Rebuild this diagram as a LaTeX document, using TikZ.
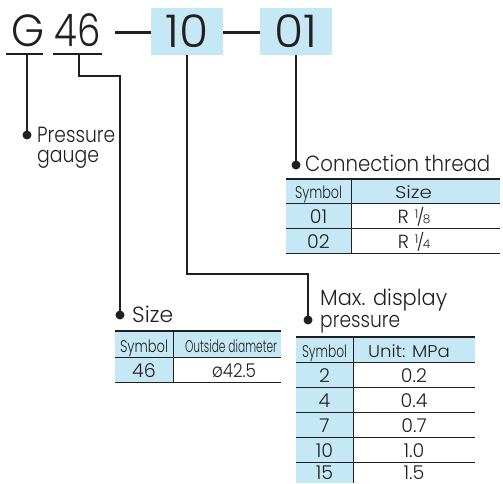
\documentclass[tikz,border=0pt]{standalone}
\usepackage{fontspec}
\setmainfont{Poppins}[UprightFont=* Light]
\usepackage{graphicx}
\definecolor{hdr}{RGB}{196,232,245}
\definecolor{ink}{RGB}{35,31,32}
\newcommand\fitw[2]{\resizebox{#1pt}{\height}{#2}}
\newcommand\frc[2]{\raisebox{5pt}{\fontsize{12}{12}\selectfont#1}\kern-1.5pt{\fontsize{17}{17}\selectfont/}\kern-1.5pt{\fontsize{12}{12}\selectfont#2}}
\tikzset{
  ln/.style={draw=ink, line width=1.6pt},
  rl/.style={draw=ink, line width=0.9pt},
  toprl/.style={draw=ink, line width=2pt},
  big/.style={font=\fontsize{45}{45}\selectfont, text=ink, inner sep=0pt},
  lbl/.style={anchor=base west, inner sep=0pt, text=ink, font=\fontsize{22}{22}\selectfont},
  tcell/.style={anchor=base, inner sep=0pt, text=ink, font=\fontsize{19}{19}\selectfont},
  thead/.style={anchor=base, inner sep=0pt, text=ink, font=\fontsize{17}{17}\selectfont},
  codebox/.style={fill=hdr, minimum width=72pt, minimum height=47pt, inner sep=0pt, big},
}
\begin{document}
\begin{tikzpicture}[x=1pt,y=-1pt]
\useasboundingbox (0,0) rectangle (503,483);
% ---- code line ----
\node[big, anchor=base] (cG) at (28.5,46) {\fitw{33}{G}};
\node[big, anchor=base] (c46) at (78,46) {\fitw{46}{46}};
\node[codebox] (b10) at (187,31.5) {\fitw{43}{10}};
\node[codebox] (b01) at (296,31.5) {\fitw{43}{01}};
\coordinate (d1) at (115,32);
\draw[draw=ink, line width=3pt] (d1) -- (d1 -| b10.west);
\draw[draw=ink, line width=3pt] (b10.east |- d1) -- (b01.west |- d1);
% underlines
\coordinate (uGl) at (6,54);  \coordinate (uGr) at (43,54);
\coordinate (u4l) at (53,54); \coordinate (u4r) at (102,54);
\draw[ln] (uGl) -- (uGr);
\draw[ln] (u4l) -- (u4r);
\coordinate (uGm) at (27,54);
\coordinate (u4m) at (79,54);
% dots
\coordinate (pgdot) at (27,135);
\coordinate (szdot) at (120,315);
\coordinate (mpdot) at (308,320);
\coordinate (ctdot) at (296,165);
% connectors
\draw[ln] (uGm) -- (pgdot);
\draw[ln] (u4m) -- ++(0,22) -| (szdot);
\draw[ln] (b10.south) -- ++(0,219) -| (mpdot);
\draw[ln] (b01.south) -- (ctdot);
\foreach \d in {pgdot,szdot,mpdot,ctdot} \fill[ink] (\d) circle[radius=4.5pt];
% labels
\node[lbl] (lpg1) at (37,142) {\fitw{78}{Pressure}};
\node[lbl] (lpg2) at (37,162) {\fitw{62}{gauge}};
\node[lbl] (lct) at (305,171) {\fitw{185}{Connection thread}};
\node[lbl] (lsz) at (132,322) {\fitw{41}{Size}};
\node[lbl] (lmp1) at (320,305) {\fitw{127}{Max. display}};
\node[lbl] (lmp2) at (320,327) {\fitw{80}{pressure}};
% ---- connection thread table ----
\fill[hdr] (286,179) rectangle (500,203);
\fill[hdr] (286,203) rectangle (351,253);
\draw[toprl] (286,179) -- (500,179);
\foreach \yy in {203,228,253} \draw[rl] (286,\yy) -- (500,\yy);
\draw[rl] (351,179) -- (351,253);
\node[thead] (cth1) at (318.5,198) {\fitw{47}{Symbol}};
\node[thead] (cth2) at (413.5,198) {\fitw{37}{Size}};
\node[tcell] (ctr1a) at (318.5,223) {01};
\node[tcell] (ctr1b) at (414,223) {R\hspace{6pt}\frc{1}{8}};
\node[tcell] (ctr2a) at (318.5,248) {02};
\node[tcell] (ctr2b) at (414,248) {R\hspace{6pt}\frc{1}{4}};
% ---- size table ----
\fill[hdr] (115,331) rectangle (281,357);
\fill[hdr] (115,357) rectangle (173,382);
\draw[toprl] (115,331) -- (281,331);
\foreach \yy in {357,382} \draw[rl] (115,\yy) -- (281,\yy);
\draw[rl] (173,331) -- (173,382);
\node[thead] (szh1) at (144,352) {\fitw{48}{Symbol}};
\node[thead] (szh2) at (231,352) {\fitw{92}{Outside diameter}};
\node[tcell] (szr1a) at (144,377) {46};
\node[tcell] (szr1b) at (234,377) {\fitw{44}{ø42.5}};
% ---- pressure table ----
\fill[hdr] (296,337) rectangle (475,362);
\fill[hdr] (296,362) rectangle (353,483);
\draw[toprl] (296,337) -- (475,337);
\foreach \yy in {362,387,412,437,462} \draw[rl] (296,\yy) -- (475,\yy);
\draw[rl] (353,337) -- (353,483);
\node[thead] (mph1) at (324.5,357) {\fitw{45}{Symbol}};
\node[thead] (mph2) at (409,357) {\fitw{82}{Unit: MPa}};
\node[tcell] (mr1a) at (324.5,382) {2};   \node[tcell] (mr1b) at (414,382) {0.2};
\node[tcell] (mr2a) at (324.5,407) {4};   \node[tcell] (mr2b) at (414,407) {0.4};
\node[tcell] (mr3a) at (324.5,432) {7};   \node[tcell] (mr3b) at (414,432) {0.7};
\node[tcell] (mr4a) at (324.5,457) {10};  \node[tcell] (mr4b) at (414,457) {1.0};
\node[tcell] (mr5a) at (324.5,479) {15};  \node[tcell] (mr5b) at (414,479) {1.5};
\end{tikzpicture}
\end{document}
